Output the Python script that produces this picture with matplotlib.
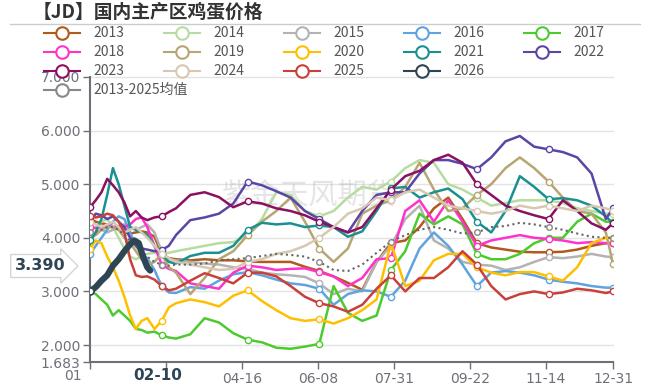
import matplotlib.pyplot as plt
from matplotlib.lines import Line2D

plt.rcParams['font.family'] = ['Noto Sans CJK SC', 'DejaVu Sans']

# day-of-year positions of the sampled values (category axis 01-01 .. 12-31)
days = [0, 4, 8, 12, 16, 20, 24, 28, 32, 36, 40, 45, 50, 55, 60,
        70, 80, 90, 100, 110, 120, 130, 140, 150, 160, 170, 180, 190, 200, 210,
        220, 230, 240, 250, 260, 270, 280, 290, 300, 310, 320, 330, 340, 350, 360,
        365]

p2013 = [4.35, 4.3, 4.27, 4.25, 4.2, 4.15, 4.1, 4.08, 4.1, 4.12, 4.1, 4.02, 3.7, 3.62, 3.6,
         3.58, 3.6, 3.58, 3.58, 3.56, 3.55, 3.55, 3.55, 3.46, 3.38, 3.28, 3.16, 3.03, 3.55, 3.9,
         3.95, 4.2, 4.55, 4.75, 4.35, 3.9, 3.82, 3.78, 3.74, 3.73, 3.73, 3.74, 3.78, 3.85, 3.9,
         3.9]
p2014 = [4.15, 4.2, 4.3, 4.35, 4.2, 4.0, 3.8, 3.65, 3.6, 3.65, 3.7, 3.72, 3.7, 3.72, 3.75,
         3.8, 3.85, 3.9, 3.92, 4.05, 4.35, 4.85, 4.8, 4.5, 4.4, 4.5, 4.75, 4.95, 4.9, 5.05,
         5.3, 5.45, 5.4, 5.0, 4.9, 4.75, 4.6, 4.65, 4.7, 4.7, 4.7, 4.65, 4.55, 4.5, 4.45,
         4.45]
p2015 = [4.05, 4.1, 4.15, 4.1, 4.15, 4.2, 4.25, 4.2, 4.15, 4.2, 4.25, 4.1, 3.75, 3.6, 3.58,
         3.55, 3.52, 3.5, 3.45, 3.42, 3.35, 3.32, 3.3, 3.27, 3.15, 2.95, 3.05, 3.0, 3.55, 3.85,
         4.35, 4.6, 3.95, 3.8, 3.55, 3.5, 3.48, 3.4, 3.45, 3.55, 3.64, 3.62, 3.65, 3.7, 3.65,
         3.64]
p2016 = [3.7, 3.85, 4.0, 4.15, 4.3, 4.4, 4.35, 4.1, 3.85, 3.7, 3.62, 3.4, 3.1, 2.98, 2.97,
         3.08, 3.05, 3.2, 3.32, 3.36, 3.3, 3.22, 3.15, 3.12, 3.05, 2.75, 2.95, 3.02, 3.0, 2.9,
         3.2, 3.8, 4.1, 3.85, 3.5, 3.1, 3.35, 3.38, 3.35, 3.3, 3.22, 3.18, 3.15, 3.1, 3.07,
         3.07]
p2017 = [3.0, 2.95, 2.85, 2.75, 2.55, 2.65, 2.55, 2.45, 2.3, 2.28, 2.23, 2.25, 2.18, 2.14, 2.12,
         2.2, 2.5, 2.42, 2.22, 2.1, 2.05, 1.95, 1.93, 1.97, 2.02, 3.1, 2.6, 2.45, 2.55, 3.4,
         3.75, 4.45, 4.25, 4.4, 4.25, 3.7, 3.6, 3.6, 3.7, 3.9, 4.0, 4.0, 4.3, 4.45, 4.3,
         4.3]
p2018 = [4.2, 4.18, 4.2, 4.22, 4.2, 4.22, 4.2, 4.25, 4.35, 4.38, 4.2, 3.85, 3.5, 3.42, 3.38,
         3.15, 3.1, 3.05, 3.35, 3.48, 3.45, 3.4, 3.42, 3.43, 3.36, 3.28, 3.1, 3.25, 3.6, 3.62,
         4.5, 4.7, 4.3, 4.7, 4.3, 3.85, 3.95, 4.0, 4.05, 4.0, 3.98, 3.95, 3.9, 3.92, 3.9,
         3.9]
p2019 = [4.0, 4.05, 4.15, 4.2, 4.2, 4.15, 4.0, 3.9, 3.75, 3.6, 3.5, 3.55, 3.7, 3.45, 3.35,
         2.95, 3.25, 3.6, 3.75, 4.05, 4.3, 4.5, 4.75, 4.3, 3.8, 3.55, 3.8, 4.45, 4.6, 4.7,
         4.95, 5.4, 4.9, 4.5, 4.55, 4.8, 5.0, 5.3, 5.5, 5.3, 5.05, 4.75, 4.5, 4.45, 4.1,
         3.52]
p2020 = [3.8, 3.95, 3.9, 3.65, 3.45, 3.2, 2.9, 2.55, 2.3, 2.45, 2.5, 2.3, 2.45, 2.7, 2.78,
         2.85, 2.8, 2.72, 2.92, 3.02, 2.82, 2.65, 2.5, 2.45, 2.48, 2.4, 2.5, 2.65, 2.85, 3.9,
         3.1, 3.2, 3.58, 3.7, 3.7, 3.45, 3.35, 3.3, 3.36, 3.36, 3.28, 3.2, 3.45, 3.9, 4.0,
         4.0]
p2021 = [3.95, 4.1, 4.35, 4.8, 5.3, 5.0, 4.6, 4.2, 4.15, 4.1, 4.05, 3.85, 3.7, 3.55, 3.52,
         3.66, 3.72, 3.72, 3.85, 4.15, 4.28, 4.25, 4.27, 4.2, 4.23, 4.2, 4.02, 4.12, 4.5, 4.92,
         4.95, 4.75, 4.85, 4.92, 4.72, 4.3, 4.1, 4.5, 5.15, 4.95, 4.72, 4.74, 4.7, 4.6, 4.4,
         4.27]
p2022 = [4.3, 4.45, 4.42, 4.35, 4.4, 4.3, 4.2, 4.0, 3.85, 3.8, 3.78, 3.75, 3.77, 3.85, 4.05,
         4.33, 4.38, 4.45, 4.64, 5.05, 4.98, 4.87, 4.75, 4.5, 4.35, 4.2, 4.1, 4.5, 4.8, 4.85,
         4.85, 5.2, 5.45, 5.45, 5.38, 5.28, 5.5, 5.8, 5.9, 5.7, 5.65, 5.6, 5.5, 5.2, 4.35,
         4.55]
p2023 = [4.57, 4.7, 4.85, 5.1, 4.98, 4.85, 4.66, 4.4, 4.5, 4.38, 4.33, 4.38, 4.4, 4.48, 4.55,
         4.8, 4.85, 4.76, 4.57, 4.68, 4.64, 4.55, 4.5, 4.42, 4.3, 4.2, 4.1, 4.2, 4.55, 4.9,
         5.15, 5.25, 5.45, 5.55, 5.4, 5.0, 4.8, 4.6, 4.5, 4.42, 4.35, 4.7, 4.5, 4.27, 4.15,
         4.27]
p2024 = [4.3, 4.25, 4.2, 4.25, 4.3, 4.2, 4.1, 4.15, 4.2, 4.1, 4.0, 3.85, 3.7, 3.62, 3.55,
         3.5, 3.45, 3.4, 3.42, 3.55, 3.6, 3.7, 3.75, 3.85, 4.0, 4.2, 4.45, 4.55, 4.75, 4.7,
         4.85, 4.9, 4.75, 4.6, 4.55, 4.5, 4.45, 4.5, 4.6, 4.55, 4.6, 4.55, 4.5, 4.6, 4.55,
         4.5]
p2025 = [4.4, 4.38, 4.4, 4.45, 4.42, 4.3, 4.1, 3.6, 3.3, 3.27, 3.28, 3.22, 3.1, 3.02, 3.05,
         3.2, 3.34, 3.25, 3.15, 3.35, 3.35, 3.28, 3.1, 2.9, 2.78, 2.72, 2.62, 2.75, 3.05, 3.3,
         3.0, 3.25, 3.25, 3.45, 3.75, 3.5, 3.1, 2.85, 2.95, 3.0, 2.95, 2.98, 3.05, 3.02, 2.97,
         3.0]
p_mean = [4.1, 4.12, 4.15, 4.2, 4.2, 4.15, 4.05, 3.95, 3.85, 3.75, 3.65, 3.55, 3.5, 3.48, 3.5,
          3.5, 3.52, 3.58, 3.6, 3.62, 3.66, 3.7, 3.68, 3.65, 3.55, 3.4, 3.38, 3.5, 3.72, 3.93,
          4.05, 4.15, 4.2, 4.15, 4.08, 4.1, 4.2, 4.22, 4.28, 4.25, 4.2, 4.15, 4.08, 4.02, 4.0,
          4.0]

days_2026 = [0, 4, 8, 12, 16, 20, 24, 28, 31, 34, 37, 40, 42]
p2026 = [3.0, 3.08, 3.2, 3.3, 3.48, 3.6, 3.75, 3.88, 3.95, 3.9, 3.65, 3.45, 3.39]

series = [
    ('2013', p2013, '#b05a1c'),
    ('2014', p2014, '#b6dca0'),
    ('2015', p2015, '#b3b3b3'),
    ('2016', p2016, '#5fa3e0'),
    ('2017', p2017, '#4dcb2e'),
    ('2018', p2018, '#ff33cc'),
    ('2019', p2019, '#b8a574'),
    ('2020', p2020, '#ffbf00'),
    ('2021', p2021, '#1a9090'),
    ('2022', p2022, '#5b45a6'),
    ('2023', p2023, '#8c1061'),
    ('2024', p2024, '#d8c8b2'),
    ('2025', p2025, '#c9403b'),
]
color_2026 = '#2f4554'
color_mean = '#666666'

tick_days = [0, 53, 106, 159, 212, 265, 318, 365]
tick_labels = ['', '', '04-16', '06-08', '07-31', '09-22', '11-14', '12-31']
yticks = [1.683, 2, 3, 4, 5, 6, 7]

W, H = 648, 385


def fx(px):
    return px / W


def fy(py):
    return 1 - py / H


fig = plt.figure(figsize=(6.48, 3.85), dpi=100)
ax = fig.add_axes([fx(90), fy(362), (613 - 90) / W, (362 - 77) / H])

mark_idx = [days.index(d) for d in (0, 50, 110, 160, 210, 270, 320, 365)]

for label, vals, color in series:
    ax.plot(days, vals, color=color, lw=1.8, marker='o', markevery=mark_idx,
            ms=4.5, mfc='white', mec=color, mew=1.0, zorder=3,
            solid_joinstyle='round')

ax.plot(days, p_mean, color=color_mean, lw=1.5, ls=(0, (1, 1.6)), marker='o',
        markevery=mark_idx, ms=4, mfc='white', mec='#888888', mew=1.0, zorder=4)
ax.plot(days_2026, p2026, color=color_2026, lw=4.5, zorder=5,
        solid_capstyle='round', solid_joinstyle='round',
        marker='o', markevery=[0], ms=5, mfc='white', mec=color_2026, mew=1.2)

# watermark
ax.text(fx(222), fy(196), '紫金天风期货', transform=fig.transFigure,
        fontsize=21, color='#999999', alpha=0.25, va='center', ha='left', zorder=1)

ax.set_xlim(0, 365)
ax.set_ylim(1.683, 7.0)
for v in [2, 3, 4, 5, 6, 7]:
    ax.axhline(v, color='#e3e3e3', lw=1, zorder=0, clip_on=False)

ax.set_yticks(yticks)
ax.set_yticklabels([f'{v:.3f}' for v in yticks], family='DejaVu Sans')
ax.set_xticks(tick_days)
ax.set_xticklabels(tick_labels, family='DejaVu Sans')
for s in ('top', 'right'):
    ax.spines[s].set_visible(False)
for s in ('left', 'bottom'):
    ax.spines[s].set_color('#6e7079')
    ax.spines[s].set_linewidth(1.5)
ax.tick_params(axis='y', length=5, width=1, color='#6e7079', labelsize=10,
               labelcolor='#6e7079', pad=2)
ax.tick_params(axis='x', length=5, width=1, color='#6e7079', labelsize=10,
               labelcolor='#6e7079', pad=2)

# first category label and axis pointer labels
fig.text(fx(82), fy(376), '01', ha='right', va='center', fontsize=10,
         color='#6e7079', family='DejaVu Sans')
fig.text(fx(158), fy(375), '02-10', ha='center', va='center', fontsize=11,
         fontweight='bold', color=color_2026, family='DejaVu Sans')
fig.text(fx(40), fy(266), f'{p2026[-1]:.3f}', ha='center', va='center',
         fontsize=11.5, fontweight='bold', color=color_2026, family='DejaVu Sans',
         bbox=dict(boxstyle='rarrow,pad=0.25', fc='white', ec='#d5d5d5', lw=1))

# title
fig.text(fx(33), fy(12), '【JD】国内主产区鸡蛋价格', ha='left', va='center',
         fontsize=13.5, fontweight='bold', color='#333333')
fig.add_artist(Line2D([fx(10), fx(640)], [fy(24), fy(24)], color='#cccccc', lw=1))

# legend: 14 yearly items in rows of five, the average alone on a fourth row
legend_items = [(lab, col) for lab, _, col in series]
legend_items += [('2026', color_2026)]
legend_pos = [divmod(k, 5) for k in range(len(legend_items))]
legend_items += [('2013-2025均值', '#888888')]
legend_pos += [(3, 0)]
for (label, color), (row, col) in zip(legend_items, legend_pos):
    cy = 33 + 19 * row
    cx = 62 + 120 * col
    fig.add_artist(Line2D([fx(cx - 18), fx(cx), fx(cx + 18)], [fy(cy)] * 3,
                          color=color, lw=1.5, marker='o', markevery=[1], ms=9,
                          mfc='white', mec=color, mew=1.5, zorder=5))
    fig.text(fx(cx + 31), fy(cy), label, ha='left', va='center', fontsize=10,
             color='#555555', zorder=6)

fig.savefig('out.png', dpi=100)
